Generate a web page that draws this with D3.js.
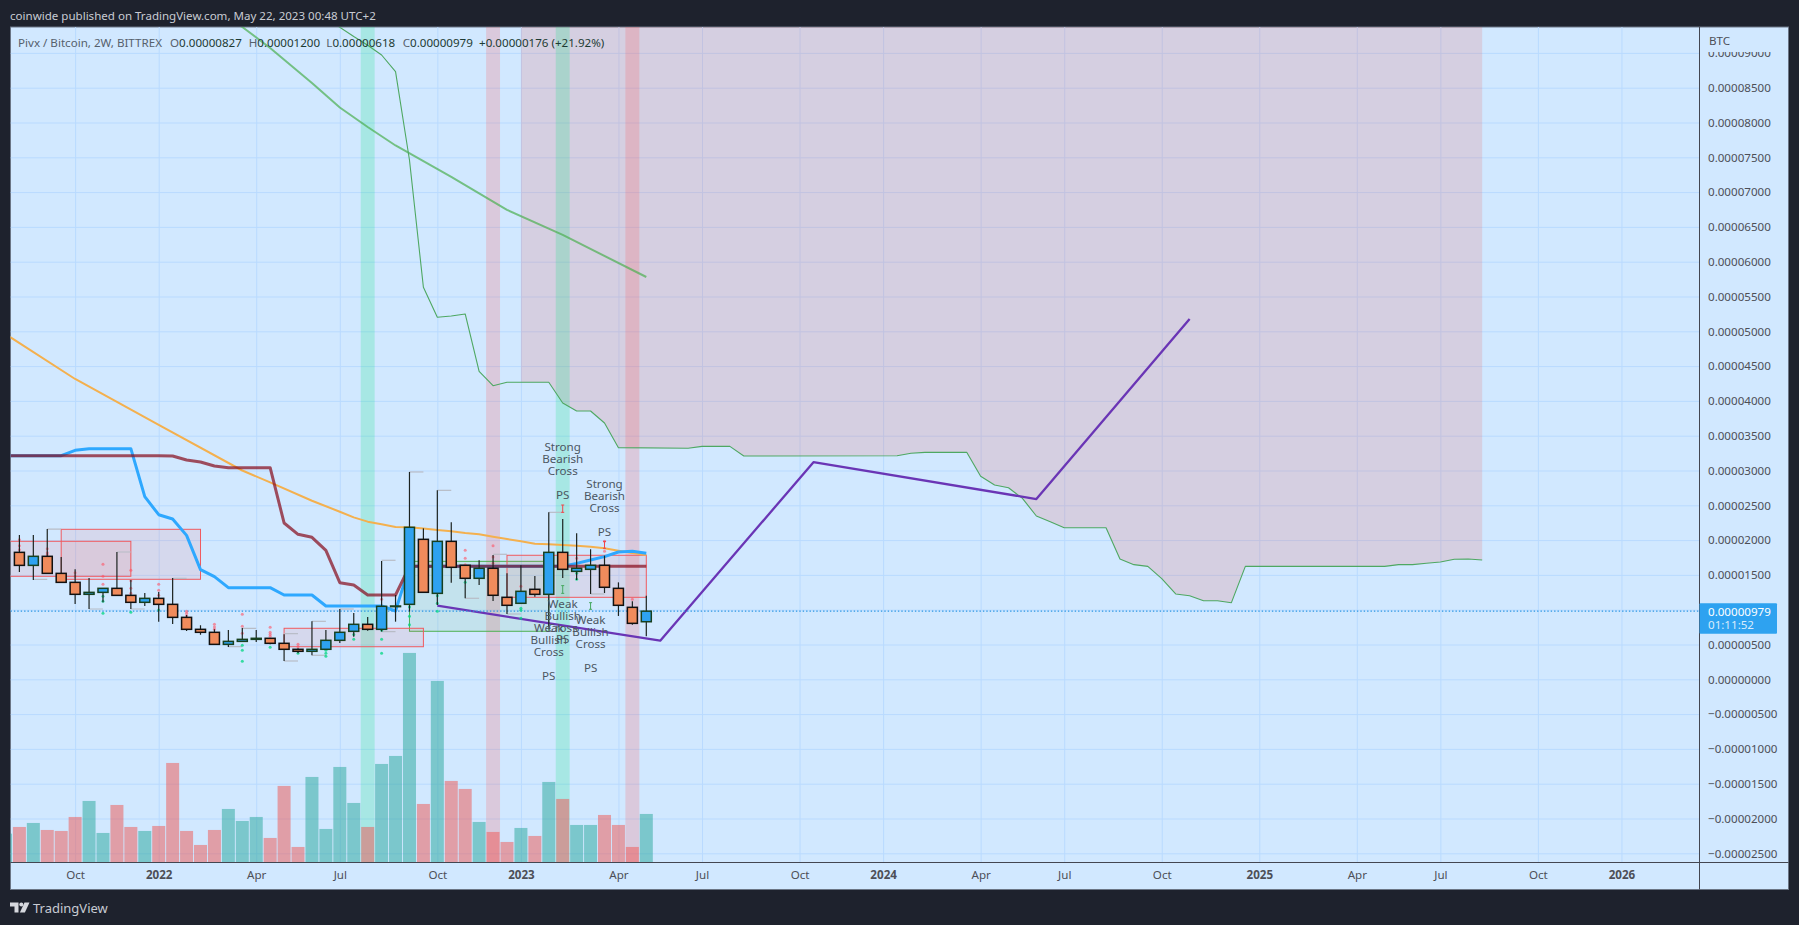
<!DOCTYPE html>
<html><head><meta charset="utf-8">
<style>html,body{margin:0;padding:0;background:#1e222d;overflow:hidden}svg{display:block}
text{font-family:"Noto Sans",sans-serif}</style>
<script src="https://cdn.jsdelivr.net/npm/d3@7"></script></head><body><svg id="c" width="1799" height="925"></svg>
<script>
// prices are in 1e-8 BTC; x positions are 2-week bar numbers
const opens =[1824,1637,1767,1522,1393,1221,1249,1307,1206,1106,1163,1077,890,718,675,502,545,574,589,517,431,402,431,560,689,790,718,1044,1077,2011,1235,1982,1638,1451,1595,1178,1092,1293,1221,1824,1551,1580,1638,1307,1034,827];
const highs =[2073,2073,2159,1757,1580,1455,1307,1829,1427,1240,1254,1455,924,775,718,708,737,708,589,646,445,833,708,1010,953,895,1700,1211,2979,2169,2715,2255,1638,1710,1786,1523,1638,1484,2399,2303,2097,1868,1777,1393,1120,1200];
const lows  =[1542,1427,1522,1393,1082,1010,1106,1206,1010,1053,828,794,694,641,502,464,545,536,502,263,373,345,431,521,613,699,685,828,972,1250,1068,1389,1164,1355,1125,938,1092,1187,747,1456,1427,1226,1240,910,785,618];
const closes=[1637,1767,1522,1393,1221,1249,1307,1206,1106,1163,1077,890,718,675,502,545,574,589,517,431,402,431,560,675,790,718,1049,1053,2184,1250,1982,1609,1451,1595,1207,1063,1264,1221,1824,1580,1595,1638,1322,1063,804,979];
// first volume belongs to bar -1, cut by the left edge
const volumes=[86,106,118,97,94,136,184,88,172,106,94,109,298,94,52,97,160,124,136,73,229,46,256,100,286,178,106,295,319,628,175,544,244,220,121,91,61,103,79,241,190,112,112,142,112,46,145];

const blueLine=[[-1,3213],[3,3213],[4,3290],[5,3314],[8,3314],[9,2624],[10,2365],[11,2303],[12,2068],[13,1575],[14,1475],[15,1317],[18,1317],[19,1211],[21,1211],[22,1053],[26,1053],[27,981],[28,1623],[39,1623],[40,1666],[41,1714],[42,1762],[43,1829],[44,1839],[45,1810]];
const redLine=[[-1,3213],[10,3213],[11,3208],[12,3151],[13,3122],[14,3064],[15,3040],[18,3040],[19,2246],[20,2083],[21,2040],[22,1853],[23,1388],[24,1355],[25,1211],[27,1211],[28,1623],[45,1623]];
const orangeLine=[[-1,4960],[4,4315],[10,3654],[16,3000],[18,2830],[21,2565],[23,2408],[24,2327],[25,2265],[26,2227],[27,2188],[28,2184],[29,2165],[30,2145],[31,2126],[32,2102],[33,2083],[34,2049],[35,2016],[36,1982],[37,1949],[38,1939],[39,1930],[40,1920],[41,1906],[42,1882],[43,1848],[44,1815],[45,1786]];
const greenSlow=[[15,9510],[16,9372],[18,9070],[21,8567],[23,8215],[25,7935],[27,7670],[31,7220],[35,6745],[39,6385],[45,5780]];
const greenSpan=[[22,9500],[23,9368],[24,9235],[25,9110],[26,8970],[27,8730],[28,7461],[29,5632],[30,5201],[31,5220],[32,5249],[33,4425],[34,4218],[35,4267],[36,4267],[38,4267],[39,3970],[40,3855],[41,3855],[42,3682],[43,3328],[48,3319],[49,3347],[51,3347],[52,3208],[63,3213],[64,3247],[65,3261],[68,3261],[69,2917],[70,2792],[71,2753],[72,2600],[73,2346],[74,2265],[75,2178],[78,2178],[79,1728],[80,1647],[81,1623],[82,1446],[83,1226],[84,1201],[85,1129],[86,1129],[87,1101],[88,1623],[98,1623],[99,1647],[100,1647],[101,1667],[102,1685],[103,1724],[104,1728],[105,1714]];
const cloudStart=36;
const purpleLine=[[30,1057],[46,555],[57,3119],[73,2590],[84,5178]];
const greenBands=[25,39];
const pinkBands=[34,44];
const redBoxes=[[-2,8,1983,1480],[3,13,2155,1437],[19,29,733,468],[35,45,1782,1178]];
const greenBoxes=[[28,38,1695,690]];
const pivots=[[2,2159],[7,1829],[1,1436],[5,1010],[8,1010],[11,1451],[15,469],[16,732],[19,656],[19,263],[21,833],[21,345],[23,1010],[26,1710],[26,685],[28,2979],[30,2715],[32,1164],[34,1796],[35,938],[38,2399],[41,1226]];
const pinkDots=[[0,2006],[0,1920],[0,1862],[2,1877],[2,1819],[2,1791],[4,1532],[4,1479],[6,1652],[6,1479],[6,1364],[8,1566],[8,1417],[8,1307],[8,1235],[10,1364],[10,1278],[10,1206],[12,976],[12,948],[12,914],[14,790],[14,751],[14,718],[16,933],[16,761],[16,660],[18,747],[18,675],[18,646],[18,617],[20,502],[20,469],[26,1149],[32,1853],[32,1738],[32,1647],[34,1920],[34,1757],[34,1666],[36,1336],[40,1738],[42,1982],[42,1839],[44,1149]];
const greenDots=[[6,1192],[6,1120],[6,948],[8,962],[10,996],[16,488],[16,416],[16,258],[18,459],[20,373],[22,416],[22,373],[22,330],[24,704],[24,642],[24,575],[26,704],[26,575],[26,373],[28,1039],[28,905],[28,785],[30,1202],[30,1092],[30,977],[32,1393],[36,1020],[36,991],[36,876],[40,1523],[40,1436]];
const redMarks=[[39,2504,2399],[42,1982,1882]];
const greenMarks=[[39,1346,1235],[41,1101,1006]];
const notes=[[39,3342,["Strong","Bearish","Cross"]],[39,2652,["PS"]],[42,2806,["Strong","Bearish","Cross"]],[42,2121,["PS"]],[39,1086,["Weak","Bullish","Cross"]],[39,575,["PS"]],[38,741,["Weak","Bullish","Cross"]],[38,52,["PS"]],[41,856,["Weak","Bullish","Cross"]],[41,167,["PS"]]];
const timeTicks=[4,10,17,23,30,36,43,49,56,62,69,75,82,89,96,102,109,115];
const timeLabels=["Oct","2022","Apr","Jul","Oct","2023","Apr","Jul","Oct","2024","Apr","Jul","Oct","2025","Apr","Jul","Oct","2026"];
const priceTicks=[9000,8500,8000,7500,7000,6500,6000,5500,5000,4500,4000,3500,3000,2500,2000,1500,1000,500,0,-500,-1000,-1500,-2000,-2500];
const lastPrice=979;

const L=10.5,R=1699.5,T=27,B=862,AR=1788.5,AB=889.5,FS=11.6;
const x=d3.scaleLinear().domain([0,45]).range([19.4,646.3]);
const y=d3.scaleLinear().domain([0,9000]).range([679.3,52.9]);
const vol=d3.scaleLinear().domain([0,800]).range([862.3,595.6]);
const fmt=v=>(v<0?"\u2212":"")+(Math.abs(v)/1e8).toFixed(8);
const ink="#4d4f57", blue="#2ea2f0", orange="#f08b5c";
const barW=x(1)-x(0);

const svg=d3.select("#c");
svg.append("rect").attr("width",1799).attr("height",925).attr("fill","#1e222d");
svg.append("rect").attr("x",L).attr("y",T).attr("width",AR-L).attr("height",AB-T).attr("fill","#d1e8ff").attr("stroke","#6b7585").attr("stroke-width",1);
const defs=svg.append("defs");
defs.append("clipPath").attr("id","pane").append("rect").attr("x",L).attr("y",T).attr("width",R-L).attr("height",B-T);
defs.append("clipPath").attr("id","ax").append("rect").attr("x",R).attr("y",52).attr("width",AR-R).attr("height",AB-52);
const p=svg.append("g").attr("clip-path","url(#pane)");

// grid
const gridCol="#b9daff";
p.append("g").attr("transform",`translate(${L},0)`).call(d3.axisRight(y).tickValues(priceTicks).tickSize(R-L).tickFormat(""))
 .call(g=>{g.select(".domain").remove();g.selectAll("line").attr("stroke",gridCol).attr("stroke-width",1);});
p.append("g").attr("transform",`translate(0,${B})`).call(d3.axisBottom(x).tickValues(timeTicks).tickSize(T-B).tickFormat(""))
 .call(g=>{g.select(".domain").remove();g.selectAll("line").attr("stroke",gridCol).attr("stroke-width",1);});

// cloud above the span line
const spanCloud=greenSpan.filter(d=>d[0]>=cloudStart);
p.append("path").datum(spanCloud).attr("fill","rgba(239,83,80,.17)")
 .attr("d",d3.area().x(d=>x(d[0])).y0(T).y1(d=>y(d[1])));

// vertical bands
p.selectAll(".gb").data(greenBands).join("rect").attr("x",d=>x(d)-barW/2).attr("width",barW).attr("y",T).attr("height",B-T).attr("fill","rgba(0,230,118,.2)");
p.selectAll(".pb").data(pinkBands).join("rect").attr("x",d=>x(d)-barW/2).attr("width",barW).attr("y",T).attr("height",B-T).attr("fill","rgba(255,82,82,.2)");

// volume
p.selectAll(".vol").data(volumes).join("rect")
 .attr("x",(d,i)=>x(i-1)-6.5).attr("width",13).attr("y",d=>vol(d)).attr("height",d=>vol(0)-vol(d))
 .attr("fill",(d,i)=>(i===0||closes[i-1]>=opens[i-1])?"rgba(38,166,154,.5)":"rgba(239,83,80,.5)");

// boxes
const box=(data,stroke,fill)=>p.selectAll(null).data(data).join("rect")
 .attr("x",d=>x(d[0])).attr("width",d=>x(d[1])-x(d[0])).attr("y",d=>y(d[2])).attr("height",d=>y(d[3])-y(d[2]))
 .attr("fill",fill).attr("stroke",stroke).attr("stroke-width",1);
box(greenBoxes,"#4caf50","rgba(76,175,80,.1)");
box(redBoxes,"#f05a5f","rgba(255,82,82,.1)");

// lines
const line=d3.line().x(d=>x(d[0])).y(d=>y(d[1]));
const draw=(data,c,w)=>p.append("path").datum(data).attr("fill","none").attr("stroke",c).attr("stroke-width",w).attr("stroke-linejoin","round").attr("d",line);
draw(greenSlow,"rgba(76,175,80,.7)",2);
draw(greenSpan,"#4ea862",1.1);
draw(orangeLine,"#f4b04e",2);
draw(blueLine,"#2ea8ff",3);
draw(redLine,"rgba(136,14,30,.72)",3);
draw(purpleLine,"#6a35b5",2.3);

// last price dotted
p.append("line").attr("x1",L).attr("x2",R).attr("y1",y(lastPrice)).attr("y2",y(lastPrice)).attr("stroke","#2a96e4").attr("stroke-width",1.2).attr("stroke-dasharray","1.4 2");

// pivots
p.selectAll(".pv").data(pivots).join("line").attr("x1",d=>x(d[0])).attr("x2",d=>x(d[0]+1)).attr("y1",d=>y(d[1])).attr("y2",d=>y(d[1])).attr("stroke","#b8bcc6").attr("stroke-width",1.2);

// dots
p.selectAll(".pd").data(pinkDots).join("circle").attr("cx",d=>x(d[0])).attr("cy",d=>y(d[1])).attr("r",1.5).attr("fill","rgba(255,82,100,.6)");
p.selectAll(".gd").data(greenDots).join("circle").attr("cx",d=>x(d[0])).attr("cy",d=>y(d[1])).attr("r",1.5).attr("fill","rgba(0,215,130,.75)");

// candles
const cdl=p.append("g");
const idx=d3.range(opens.length);
cdl.selectAll("line").data(idx).join("line").attr("x1",i=>x(i)).attr("x2",i=>x(i)).attr("y1",i=>y(highs[i])).attr("y2",i=>y(lows[i])).attr("stroke","#1c2320").attr("stroke-width",1.2);
cdl.selectAll("rect").data(idx).join("rect").attr("x",i=>x(i)-5).attr("width",10)
 .attr("y",i=>y(Math.max(opens[i],closes[i]))).attr("height",i=>Math.abs(y(opens[i])-y(closes[i])))
 .attr("fill",i=>closes[i]>=opens[i]?blue:orange).attr("stroke",i=>closes[i]>=opens[i]?"#17401f":"#111").attr("stroke-width",1.5);

// I marks
const mark=(data,c)=>{const g=p.append("g").attr("stroke",c).attr("stroke-width",1);
 data.forEach(d=>{g.append("line").attr("x1",x(d[0])).attr("x2",x(d[0])).attr("y1",y(d[1])).attr("y2",y(d[2]));
  [d[1],d[2]].forEach(v=>g.append("line").attr("x1",x(d[0])-1.5).attr("x2",x(d[0])+1.5).attr("y1",y(v)).attr("y2",y(v)));});};
mark(redMarks,"#f0464a");mark(greenMarks,"#45a860");

// annotations
const an=svg.append("g").attr("text-anchor","middle").attr("font-size",FS).attr("fill","#4c5662");
notes.forEach(n=>n[2].forEach((t,k)=>an.append("text").attr("x",x(n[0])).attr("y",y(n[1])+k*12).attr("dy","0.35em").text(t)));

// axes frame
svg.append("line").attr("x1",R).attr("x2",R).attr("y1",T).attr("y2",AB).attr("stroke","#434651");
svg.append("line").attr("x1",L).attr("x2",AR).attr("y1",B+.5).attr("y2",B+.5).attr("stroke","#434651");

// time axis
svg.append("g").attr("transform",`translate(0,${B})`).call(d3.axisBottom(x).tickValues(timeTicks).tickSize(0).tickPadding(9).tickFormat((d,i)=>timeLabels[i]))
 .call(g=>{g.select(".domain").remove();g.selectAll("text").attr("font-size",FS).attr("fill",ink).attr("font-family","Noto Sans").attr("font-weight",(d,i)=>/^\d/.test(timeLabels[i])?700:400);});

// price axis
svg.append("g").attr("clip-path","url(#ax)").append("g").attr("transform",`translate(${R},0)`)
 .call(d3.axisRight(y).tickValues(priceTicks).tickSize(0).tickPadding(8.5).tickFormat(fmt))
 .call(g=>{g.select(".domain").remove();g.selectAll("text").attr("font-size",FS).attr("fill",ink).attr("font-family","Noto Sans");});
svg.append("text").attr("x",1709).attr("y",44.5).attr("font-size",FS).attr("fill",ink).text("BTC");

// last price tag
svg.append("rect").attr("x",R).attr("y",y(lastPrice)-8).attr("width",77.5).attr("height",30.5).attr("rx",1).attr("fill",blue);
svg.append("text").attr("x",1708).attr("y",y(lastPrice)+4.5).attr("font-size",FS).attr("fill","#fff").text(fmt(lastPrice));
svg.append("text").attr("x",1708).attr("y",y(lastPrice)+18).attr("font-size",FS).attr("fill","#d8ecfc").text("01:11:52");

// header and legend
svg.append("text").attr("x",10).attr("y",20).attr("font-size",11.55).attr("fill","#c8cbd3").text("coinwide published on TradingView.com, May 22, 2023 00:48 UTC+2");
const lg=svg.append("text").attr("y",47).attr("font-size",FS).attr("fill","#56606c");
lg.append("tspan").attr("x",18).text("Pivx / Bitcoin, 2W, BITTREX");
[["O","0.00000827",170],["H","0.00001200",248.7],["L","0.00000618",326.3],["C","0.00000979",402.7]].forEach(d=>{
 lg.append("tspan").attr("x",d[2]).text(d[0]);lg.append("tspan").attr("fill","#1d3b33").text(d[1]);});
lg.append("tspan").attr("x",479).attr("fill","#1d3b33").text("+0.00000176 (+21.92%)");

// footer logo
const lo=svg.append("g").attr("fill","#d6d8de");
lo.append("path").attr("d","M10 902.5h8.5v10h-4v-6h-4.5z");
lo.append("circle").attr("cx",21.3).attr("cy",904.5).attr("r",2);
lo.append("path").attr("d","M24.5 902.5h5l-4.6 10h-5z");
svg.append("text").attr("x",33).attr("y",913).attr("font-size",13).attr("fill","#c8cbd3").text("TradingView");
</script></body></html>
